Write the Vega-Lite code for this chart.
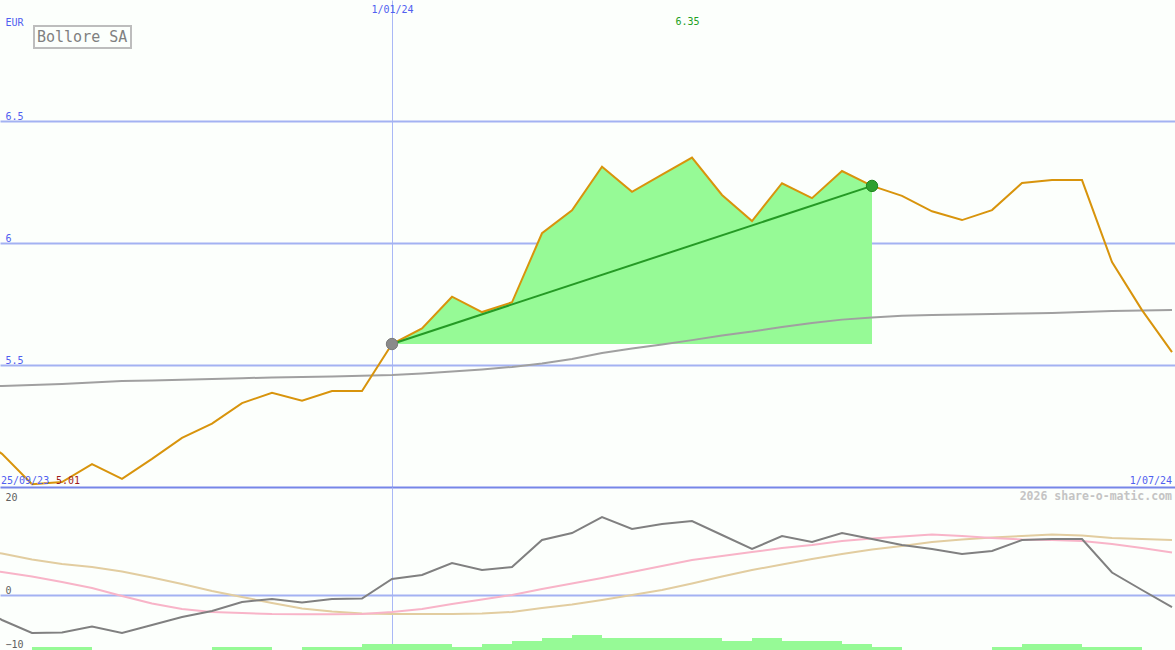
{
  "$schema": "https://vega.github.io/schema/vega-lite/v6.json",
  "background": "#fcfffc",
  "padding": 0,
  "spacing": 0,
  "config": {
    "view": {"stroke": null},
    "legend": {"strokeWidth": 2},
    "text": {"font": "DejaVu Sans Mono", "fontSize": 10}
  },
  "datasets": {
    "weeks": [
      {"date": "2023-09-25", "price": 5.22, "ma": 5.410, "mom": -2.0, "sig1": 5.71, "sig2": 9.39},
      {"date": "2023-10-02", "price": 5.136, "ma": 5.414, "mom": -5.10, "sig1": 4.69, "sig2": 8.47},
      {"date": "2023-10-09", "price": 5.011, "ma": 5.418, "mom": -7.76, "sig1": 3.78, "sig2": 7.24},
      {"date": "2023-10-16", "price": 5.02, "ma": 5.422, "mom": -7.65, "sig1": 2.65, "sig2": 6.33},
      {"date": "2023-10-23", "price": 5.094, "ma": 5.428, "mom": -6.43, "sig1": 1.43, "sig2": 5.71},
      {"date": "2023-10-30", "price": 5.033, "ma": 5.434, "mom": -7.76, "sig1": -0.20, "sig2": 4.80},
      {"date": "2023-11-06", "price": 5.115, "ma": 5.437, "mom": -6.12, "sig1": -1.73, "sig2": 3.57},
      {"date": "2023-11-13", "price": 5.201, "ma": 5.440, "mom": -4.49, "sig1": -2.86, "sig2": 2.24},
      {"date": "2023-11-20", "price": 5.260, "ma": 5.443, "mom": -3.27, "sig1": -3.47, "sig2": 0.82},
      {"date": "2023-11-27", "price": 5.344, "ma": 5.446, "mom": -1.43, "sig1": -3.67, "sig2": -0.41},
      {"date": "2023-12-04", "price": 5.386, "ma": 5.449, "mom": -0.82, "sig1": -3.88, "sig2": -1.63},
      {"date": "2023-12-11", "price": 5.354, "ma": 5.451, "mom": -1.53, "sig1": -3.94, "sig2": -2.76},
      {"date": "2023-12-18", "price": 5.393, "ma": 5.453, "mom": -0.82, "sig1": -3.94, "sig2": -3.37},
      {"date": "2023-12-25", "price": 5.393, "ma": 5.456, "mom": -0.71, "sig1": -3.88, "sig2": -3.78},
      {"date": "2024-01-01", "price": 5.586, "ma": 5.459, "mom": 3.27, "sig1": -3.47, "sig2": -3.88},
      {"date": "2024-01-08", "price": 5.650, "ma": 5.465, "mom": 4.08, "sig1": -2.86, "sig2": -3.88},
      {"date": "2024-01-15", "price": 5.780, "ma": 5.473, "mom": 6.53, "sig1": -1.84, "sig2": -3.88},
      {"date": "2024-01-22", "price": 5.717, "ma": 5.482, "mom": 5.10, "sig1": -0.92, "sig2": -3.78},
      {"date": "2024-01-29", "price": 5.757, "ma": 5.492, "mom": 5.71, "sig1": 0.00, "sig2": -3.47},
      {"date": "2024-02-05", "price": 6.040, "ma": 5.506, "mom": 11.22, "sig1": 1.22, "sig2": -2.65},
      {"date": "2024-02-12", "price": 6.134, "ma": 5.525, "mom": 12.65, "sig1": 2.35, "sig2": -1.94},
      {"date": "2024-02-19", "price": 6.313, "ma": 5.549, "mom": 15.92, "sig1": 3.47, "sig2": -1.02},
      {"date": "2024-02-26", "price": 6.210, "ma": 5.568, "mom": 13.47, "sig1": 4.69, "sig2": 0.00},
      {"date": "2024-03-04", "price": 6.280, "ma": 5.584, "mom": 14.49, "sig1": 5.92, "sig2": 1.02},
      {"date": "2024-03-11", "price": 6.350, "ma": 5.602, "mom": 15.10, "sig1": 7.14, "sig2": 2.35},
      {"date": "2024-03-18", "price": 6.197, "ma": 5.621, "mom": 12.24, "sig1": 7.96, "sig2": 3.78},
      {"date": "2024-03-25", "price": 6.090, "ma": 5.637, "mom": 9.39, "sig1": 8.78, "sig2": 5.10},
      {"date": "2024-04-01", "price": 6.245, "ma": 5.656, "mom": 12.04, "sig1": 9.59, "sig2": 6.22},
      {"date": "2024-04-08", "price": 6.184, "ma": 5.672, "mom": 10.82, "sig1": 10.20, "sig2": 7.35},
      {"date": "2024-04-15", "price": 6.295, "ma": 5.686, "mom": 12.65, "sig1": 11.02, "sig2": 8.37},
      {"date": "2024-04-22", "price": 6.234, "ma": 5.695, "mom": 11.43, "sig1": 11.53, "sig2": 9.29},
      {"date": "2024-04-29", "price": 6.193, "ma": 5.702, "mom": 10.20, "sig1": 11.94, "sig2": 10.00},
      {"date": "2024-05-06", "price": 6.130, "ma": 5.705, "mom": 9.39, "sig1": 12.35, "sig2": 10.82},
      {"date": "2024-05-13", "price": 6.094, "ma": 5.707, "mom": 8.37, "sig1": 12.04, "sig2": 11.33},
      {"date": "2024-05-20", "price": 6.135, "ma": 5.709, "mom": 8.98, "sig1": 11.63, "sig2": 11.73},
      {"date": "2024-05-27", "price": 6.246, "ma": 5.711, "mom": 11.22, "sig1": 11.33, "sig2": 12.04},
      {"date": "2024-06-03", "price": 6.258, "ma": 5.713, "mom": 11.43, "sig1": 11.22, "sig2": 12.35},
      {"date": "2024-06-10", "price": 6.258, "ma": 5.717, "mom": 11.43, "sig1": 11.02, "sig2": 12.14},
      {"date": "2024-06-17", "price": 5.922, "ma": 5.721, "mom": 4.59, "sig1": 10.41, "sig2": 11.63},
      {"date": "2024-06-24", "price": 5.725, "ma": 5.723, "mom": 1.02, "sig1": 9.59, "sig2": 11.43},
      {"date": "2024-07-01", "price": 5.553, "ma": 5.725, "mom": -2.45, "sig1": 8.67, "sig2": 11.22}
    ],
    "trend": [
      {"date": "2024-01-01", "price": 5.586, "kind": "start"},
      {"date": "2024-04-22", "price": 6.234, "kind": "end"}
    ],
    "vol": [
      {"date": "2023-10-09", "end": "2023-10-16", "vol": 1},
      {"date": "2023-10-16", "end": "2023-10-23", "vol": 1},
      {"date": "2023-11-20", "end": "2023-11-27", "vol": 1},
      {"date": "2023-11-27", "end": "2023-12-04", "vol": 1},
      {"date": "2023-12-11", "end": "2023-12-18", "vol": 1},
      {"date": "2023-12-18", "end": "2023-12-25", "vol": 1},
      {"date": "2023-12-25", "end": "2024-01-01", "vol": 2},
      {"date": "2024-01-01", "end": "2024-01-08", "vol": 2},
      {"date": "2024-01-08", "end": "2024-01-15", "vol": 2},
      {"date": "2024-01-15", "end": "2024-01-22", "vol": 1},
      {"date": "2024-01-22", "end": "2024-01-29", "vol": 2},
      {"date": "2024-01-29", "end": "2024-02-05", "vol": 3},
      {"date": "2024-02-05", "end": "2024-02-12", "vol": 4},
      {"date": "2024-02-12", "end": "2024-02-19", "vol": 5},
      {"date": "2024-02-19", "end": "2024-02-26", "vol": 4},
      {"date": "2024-02-26", "end": "2024-03-04", "vol": 4},
      {"date": "2024-03-04", "end": "2024-03-11", "vol": 4},
      {"date": "2024-03-11", "end": "2024-03-18", "vol": 4},
      {"date": "2024-03-18", "end": "2024-03-25", "vol": 3},
      {"date": "2024-03-25", "end": "2024-04-01", "vol": 4},
      {"date": "2024-04-01", "end": "2024-04-08", "vol": 3},
      {"date": "2024-04-08", "end": "2024-04-15", "vol": 3},
      {"date": "2024-04-15", "end": "2024-04-22", "vol": 2},
      {"date": "2024-04-22", "end": "2024-04-29", "vol": 1},
      {"date": "2024-05-20", "end": "2024-05-27", "vol": 1},
      {"date": "2024-05-27", "end": "2024-06-03", "vol": 2},
      {"date": "2024-06-03", "end": "2024-06-10", "vol": 2},
      {"date": "2024-06-10", "end": "2024-06-17", "vol": 1},
      {"date": "2024-06-17", "end": "2024-06-24", "vol": 1}
    ]
  },
  "vconcat": [
    {
      "width": 1175,
      "height": 487,
      "encoding": {
        "x": {
          "field": "date",
          "type": "temporal",
          "scale": {
            "type": "utc",
            "domain": [
              {"year": 2023, "month": 10, "date": 1, "hours": 12, "minutes": 48, "utc": true},
              {"year": 2024, "month": 7, "date": 1, "hours": 16, "minutes": 48, "utc": true}
            ]
          },
          "axis": {
            "orient": "top",
            "values": [{"year": 2024, "month": 1, "date": 1, "utc": true}],
            "grid": true,
            "gridColor": "#a9b8f6",
            "gridWidth": 1,
            "domain": false,
            "ticks": false,
            "labelPadding": -4,
            "labelBaseline": "top",
            "labelAlign": "center",
            "labelExpr": "utcFormat(datum.value, '%-d/%m/%y')",
            "labelColor": "#5060f0",
            "labelFont": "DejaVu Sans Mono",
            "labelFontSize": 10,
            "labelFlush": false,
            "labelOverlap": false,
            "title": null
          }
        }
      },
      "layer": [
        {
          "data": {"name": "weeks"},
          "transform": [{"filter": "time(datum.date) >= time('2024-01-01') && time(datum.date) <= time('2024-04-22')"}],
          "mark": {"type": "area", "color": "#96fa96", "opacity": 1},
          "encoding": {
            "y": {
              "field": "price",
              "type": "quantitative",
              "scale": {"domain": [5, 6.996], "nice": false, "zero": false},
              "axis": {
                "orient": "left",
                "values": [5, 5.5, 6, 6.5],
                "grid": true,
                "gridColor": {"condition": {"test": "datum.value === 5", "value": "#7686e8"}, "value": "#a3b2f2"},
                "gridWidth": 2,
                "domain": false,
                "ticks": false,
                "labelAlign": "left",
                "labelBaseline": "alphabetic",
                "labelPadding": -5,
                "labelOffset": -2,
                "labelExpr": "datum.value === 5 ? '' : format(datum.value, '~g')",
                "labelColor": "#5060f0",
                "labelFont": "DejaVu Sans Mono",
                "labelFontSize": 10,
                "labelOverlap": false,
                "labelFlush": false,
                "title": "EUR",
                "titleAngle": 0,
                "titleX": 5,
                "titleY": 25,
                "titleAlign": "left",
                "titleBaseline": "alphabetic",
                "titleColor": "#5060f0",
                "titleFont": "DejaVu Sans Mono",
                "titleFontSize": 10,
                "titleFontWeight": "normal"
              }
            },
            "y2": {"datum": 5.586}
          }
        },
        {
          "data": {"name": "weeks"},
          "mark": {"type": "line", "color": "#a0a0a0", "strokeWidth": 2, "clip": true},
          "encoding": {"y": {"field": "ma", "type": "quantitative"}}
        },
        {
          "data": {"name": "weeks"},
          "mark": {"type": "line", "strokeWidth": 2, "clip": true},
          "encoding": {
            "y": {"field": "price", "type": "quantitative"},
            "color": {
              "datum": "Bollore SA",
              "scale": {"range": ["#d8940c"]},
              "legend": {
                "orient": "none",
                "legendX": 34,
                "legendY": 26,
                "title": null,
                "strokeColor": "#bdbdbd",
                "fillColor": "#fcfffc",
                "padding": 3,
                "symbolType": "circle",
                "symbolOpacity": 0,
                "symbolSize": 0.01,
                "symbolStrokeWidth": 0.01,
                "labelOffset": -15,
                "labelFont": "DejaVu Sans Mono",
                "labelFontSize": 15,
                "labelColor": "#808080"
              }
            }
          }
        },
        {
          "data": {"name": "trend"},
          "mark": {"type": "line", "color": "#259a25", "strokeWidth": 2},
          "encoding": {"y": {"field": "price", "type": "quantitative"}}
        },
        {
          "data": {"name": "trend"},
          "mark": {"type": "point", "filled": true, "size": 130, "opacity": 1, "strokeWidth": 1},
          "encoding": {
            "y": {"field": "price", "type": "quantitative"},
            "fill": {"condition": {"test": "datum.kind === 'start'", "value": "#8a8a8a"}, "value": "#2ea02e"},
            "stroke": {"condition": {"test": "datum.kind === 'start'", "value": "#7a7a7a"}, "value": "#1f861f"}
          }
        },
        {
          "data": {"name": "weeks"},
          "transform": [
            {"joinaggregate": [{"op": "max", "field": "price", "as": "pmax"}]},
            {"filter": "datum.price === datum.pmax"}
          ],
          "mark": {"type": "text", "color": "#22a022", "dx": -4.5, "baseline": "alphabetic", "align": "center"},
          "encoding": {
            "y": {"datum": 6.893},
            "text": {"field": "price", "type": "quantitative", "format": ".2f"}
          }
        },
        {
          "data": {"name": "weeks"},
          "transform": [
            {"joinaggregate": [{"op": "min", "field": "price", "as": "pmin"}]},
            {"filter": "datum.price === datum.pmin"}
          ],
          "mark": {"type": "text", "color": "#a01c1c", "dx": 24, "dy": -3.5, "baseline": "alphabetic", "align": "left"},
          "encoding": {
            "y": {"datum": 5},
            "text": {"field": "price", "type": "quantitative", "format": ".2f"}
          }
        },
        {
          "data": {"values": [{"date": "2023-10-02", "text": "25/09/23"}]},
          "mark": {"type": "text", "color": "#5060f0", "dx": -1, "dy": -3.5, "baseline": "alphabetic", "align": "left"},
          "encoding": {"y": {"datum": 5}, "text": {"field": "text"}}
        },
        {
          "data": {"values": [{"date": "2024-07-01", "text": "1/07/24"}]},
          "mark": {"type": "text", "color": "#5060f0", "dx": 0, "dy": -3.5, "baseline": "alphabetic", "align": "right"},
          "encoding": {"y": {"datum": 5}, "text": {"field": "text"}}
        }
      ]
    },
    {
      "width": 1175,
      "height": 163,
      "encoding": {
        "x": {
          "field": "date",
          "type": "temporal",
          "scale": {
            "type": "utc",
            "domain": [
              {"year": 2023, "month": 10, "date": 1, "hours": 12, "minutes": 48, "utc": true},
              {"year": 2024, "month": 7, "date": 1, "hours": 16, "minutes": 48, "utc": true}
            ]
          },
          "axis": {
            "orient": "bottom",
            "values": [{"year": 2024, "month": 1, "date": 1, "utc": true}],
            "grid": true,
            "gridColor": "#a9b8f6",
            "gridWidth": 1,
            "domain": false,
            "ticks": false,
            "labels": false,
            "title": null
          }
        }
      },
      "layer": [
        {
          "data": {"name": "vol"},
          "mark": {"type": "rect", "color": "#96fa96"},
          "encoding": {
            "x2": {"field": "end"},
            "y": {"field": "vol", "type": "quantitative", "scale": {"domain": [0, 54.333], "nice": false, "zero": false}, "axis": null},
            "y2": {"datum": 0}
          }
        },
        {
          "layer": [
            {
              "data": {"name": "weeks"},
              "mark": {"type": "line", "color": "#e2cda0", "strokeWidth": 2, "clip": true},
              "encoding": {
                "y": {
                  "field": "sig2",
                  "type": "quantitative",
                  "scale": {"domain": [-11.224, 22.041], "nice": false, "zero": false},
                  "axis": {
                    "orient": "left",
                    "values": [-10, 0, 20],
                    "grid": true,
                    "gridColor": "#a3b2f2",
                    "gridWidth": 2,
                    "gridOpacity": {"condition": {"test": "datum.value === 0", "value": 1}, "value": 0},
                    "domain": false,
                    "ticks": false,
                    "labelAlign": "left",
                    "labelBaseline": "alphabetic",
                    "labelPadding": -5,
                    "labelOffset": {"condition": {"test": "datum.value === 0", "value": -2}, "value": 3},
                    "labelColor": "#606060",
                    "labelFont": "DejaVu Sans Mono",
                    "labelFontSize": 10,
                    "labelOverlap": false,
                    "labelFlush": false,
                    "title": null
                  }
                }
              }
            },
            {
              "data": {"name": "weeks"},
              "mark": {"type": "line", "color": "#f8b4c8", "strokeWidth": 2, "clip": true},
              "encoding": {"y": {"field": "sig1", "type": "quantitative"}}
            },
            {
              "data": {"name": "weeks"},
              "mark": {"type": "line", "color": "#808080", "strokeWidth": 2, "clip": true},
              "encoding": {"y": {"field": "mom", "type": "quantitative"}}
            },
            {
              "data": {"values": [{"date": "2024-07-01", "text": "2026 share-o-matic.com"}]},
              "mark": {"type": "text", "align": "right", "baseline": "top", "dy": 4, "fontSize": 11.5, "fontWeight": "bold", "color": "#c4c4c4"},
              "encoding": {"y": {"datum": 22.041}, "text": {"field": "text"}}
            }
          ]
        }
      ],
      "resolve": {"scale": {"y": "independent"}}
    }
  ]
}
